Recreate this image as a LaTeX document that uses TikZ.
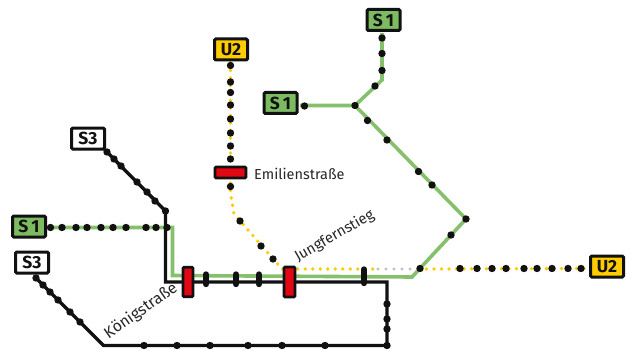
\documentclass[tikz,border=0pt]{standalone}
\usepackage{fontspec}
\setmainfont{Fira Sans}
\definecolor{lineGreen}{HTML}{86C06C}
\definecolor{boxGreen}{HTML}{7DBB63}
\definecolor{lineYellow}{HTML}{FFCC00}
\definecolor{stationRed}{HTML}{E30613}
\definecolor{inkBlack}{HTML}{111111}
\tikzset{
  linebox/.style={draw=inkBlack,line width=3pt,rounded corners=1.2pt,minimum width=33pt,minimum height=21pt,inner sep=0pt,font=\fontsize{17.5}{17}\selectfont\bfseries,text=inkBlack},
  sbox/.style={linebox,fill=boxGreen},
  ubox/.style={linebox,fill=lineYellow},
  wbox/.style={linebox,fill=white},
  station/.style={draw=inkBlack,fill=stationRed,line width=2.8pt,rounded corners=1.2pt,inner sep=0pt},
  greenline/.style={draw=lineGreen,line width=3.6pt,line join=miter},
  blackline/.style={draw=inkBlack,line width=3.4pt,line join=miter},
  yellowdots/.style={draw=lineYellow,line width=3.8pt,line cap=round,dash pattern=on 0pt off 7.5pt},
  greydots/.style={draw=black!25,line width=3.4pt,line cap=round,dash pattern=on 0pt off 8pt},
  stop/.style={circle,fill=inkBlack,inner sep=0pt,minimum size=7.4pt},
  tick/.style={draw=inkBlack,line width=6.4pt,line cap=round},
  place/.style={font=\fontsize{14.5}{15}\selectfont,text=black!85,inner sep=0pt}
}
\begin{document}
\begin{tikzpicture}[x=1pt,y=-1pt]
\useasboundingbox (0,0) rectangle (631,350);
% bend points and free ends
\coordinate (gL) at (48,227.5);
\coordinate (gA) at (172.5,227.5);
\coordinate (gB) at (172.5,275.5);
\coordinate (gC) at (412,277);
\coordinate (gD) at (466,219);
\coordinate (gY) at (355,105.5);
\coordinate (gM) at (300,105.5);
\coordinate (gE) at (382,80);
\coordinate (gT) at (382,33);
\coordinate (bS) at (105,150);
\coordinate (bA) at (165.5,211);
\coordinate (bB) at (165.5,282);
\coordinate (bC) at (387,282);
\coordinate (bD) at (387,345.5);
\coordinate (bE) at (103.5,345.5);
\coordinate (bL) at (34,276);
\coordinate (yS) at (230.5,63);
\coordinate (yA) at (230.5,193);
\coordinate (yB) at (234,214);
\coordinate (yC) at (282,269);
\coordinate (yD) at (378,269);
\coordinate (yE) at (419,269);
\coordinate (yR) at (587,268.5);
% green lines
\draw[greenline] (gL) -- (gA) -- (gB) -- (gC) -- (gD) -- (gY) -- (gM);
\draw[greenline] (gY) -- (gE) -- (gT);
% yellow and grey dotted lines
\draw[yellowdots] (yS) -- (yA) -- (yB) -- (yC) -- (yD);
\draw[greydots] (yD) -- (yE);
\draw[yellowdots] (yE) -- (yR);
% black lines
\draw[blackline] (bS) -- (bA) -- (bB) -- (bC) -- (bD) -- (bE) -- (bL);
% terminus boxes
\node[sbox] (s1top) at (383.5,20) {S\,1};
\node[ubox] (u2top) at (231,49.5) {U2};
\node[sbox] (s1mid) at (280.5,103) {S\,1};
\node[wbox] (s3up) at (88,138.5) {S3};
\node[sbox] (s1left) at (29,226.5) {S\,1};
\node[wbox] (s3low) at (32,262.5) {S3};
\node[ubox] (u2right) at (607,266.5) {U2};
% stop markers
\foreach \i/\x/\y in {1/230.5/65.5,2/230.5/82,3/230.5/92.5,4/230.5/105,5/230.5/119,6/230.5/133,7/230.5/146,8/230.5/159,9/230.5/186.5,10/240/221,11/261/246,12/273/259,
  13/382/38,14/382/53.5,15/382/70.5,16/375/86,17/355/105.5,18/304.5/106,19/367.5/120.5,20/387/140,21/418.5/171.5,22/432/185,23/466/219,24/451/235,25/420/268.5,
  26/460/268.5,27/477/268.5,28/492/268.5,29/506/268.5,30/524/268.5,31/537/268.5,32/552/268.5,33/568/268.5,34/581/268.5,
  35/107/152,36/114/159,37/121/166,38/137/182,39/147/192,40/155/201,41/165.5/211,
  42/50.5/227.5,43/62/227.5,44/76/227.5,45/87/227.5,46/101/227.5,47/113/227.5,48/126/227.5,49/146/227.5,50/156/227.5,51/167/227.5,
  52/36/278,53/43/285,54/50/292,55/58/300,56/70/312,57/80/322,
  58/144/345.5,59/177/345.5,60/210/345.5,61/248/345.5,62/282/345.5,63/325/345.5,64/387/345.5,
  65/387/304,66/387/319,67/387/329}
  \node[stop] (stop\i) at (\x,\y) {};
% ticks across the parallel lines
\coordinate (tA1) at (206,274.5); \coordinate (tA2) at (206,284);
\coordinate (tB1) at (236,274.5); \coordinate (tB2) at (236,284);
\coordinate (tC1) at (259,274.5); \coordinate (tC2) at (259,284);
\coordinate (tD1) at (364,269.5); \coordinate (tD2) at (364,283);
\draw[tick] (tA1) -- (tA2);
\draw[tick] (tB1) -- (tB2);
\draw[tick] (tC1) -- (tC2);
\draw[tick] (tD1) -- (tD2);
% stations
\node[station,minimum width=10pt,minimum height=29.5pt] (koenig) at (188,282) {};
\node[station,minimum width=11pt,minimum height=30pt] (jungfern) at (289.5,282) {};
\node[station,minimum width=31pt,minimum height=11pt] (emilien) at (230.5,172.5) {};
% labels
\node[place,anchor=west] (lemilien) at (254,174) {Emilienstraße};
\node[place,rotate=35,font=\fontsize{15.8}{16}\selectfont] (lkoenig) at (141,311) {Königstraße};
\node[place,rotate=30,font=\fontsize{14.8}{16}\selectfont] (ljungfern) at (334.5,236) {Jungfernstieg};
\end{tikzpicture}
\end{document}
